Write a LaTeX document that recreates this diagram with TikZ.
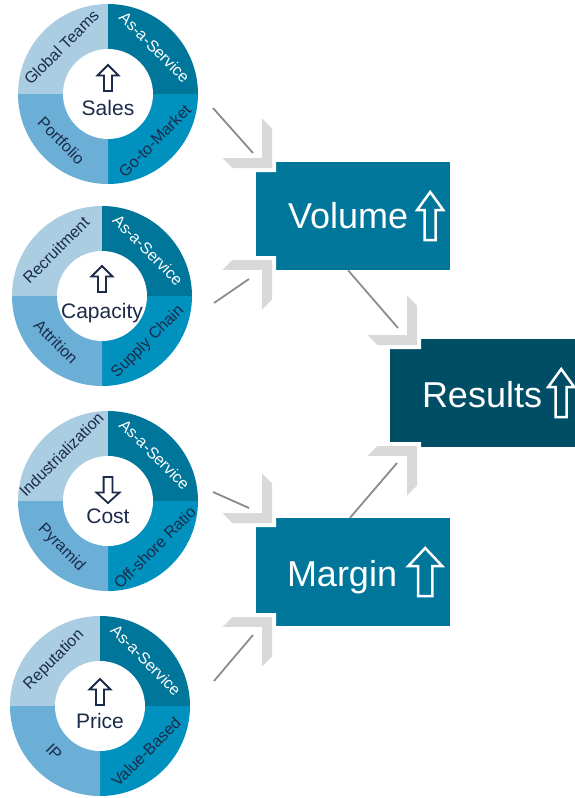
\documentclass[tikz,border=0pt]{standalone}
\usepackage{fontspec}
\setmainfont{Liberation Sans}
\usetikzlibrary{positioning,calc}
\definecolor{ink}{HTML}{1C2B4A}
\definecolor{segpale}{HTML}{AACDE2}
\definecolor{segmid}{HTML}{6BAED6}
\definecolor{segdeep}{HTML}{00769A}
\definecolor{segbright}{HTML}{0091BE}
\definecolor{boxfill}{HTML}{00769A}
\definecolor{resfill}{HTML}{004E66}
\definecolor{chevgrey}{HTML}{D9D9D9}
\definecolor{linkgrey}{HTML}{8C8C8C}

\begin{document}
\begin{tikzpicture}[
  x=1pt, y=-1pt,
  dial/.pic={
    \fill[segpale] (0,0) -- (180:90) arc[start angle=180, end angle=270, radius=90] -- cycle;
    \fill[segdeep] (0,0) -- (270:90) arc[start angle=270, end angle=360, radius=90] -- cycle;
    \fill[segbright] (0,0) -- (0:90) arc[start angle=0, end angle=90, radius=90] -- cycle;
    \fill[segmid] (0,0) -- (90:90) arc[start angle=90, end angle=180, radius=90] -- cycle;
  },
  hubmark/.pic={\filldraw[draw=ink, fill=white, line width=1.8pt]
    (0,-13) -- (10.5,-2.5) -- (4,-2.5) -- (4,13) -- (-4,13) -- (-4,-2.5) -- (-10.5,-2.5) -- cycle;},
  bigmark/.pic={\draw[white, line width=2.5pt]
    (0,-24) -- (13,-6) -- (5.5,-6) -- (5.5,24) -- (-5.5,24) -- (-5.5,-6) -- (-13,-6) -- cycle;},
  chev/.pic={\filldraw[#1] (0,0) -- (-28,28) -- (-42,28) -- (-14,0) -- (-42,-28) -- (-28,-28) -- cycle;},
  hub/.style={circle, fill=white, minimum size=90pt, inner sep=0pt},
  hubtext/.style={font=\fontsize{21}{24}\selectfont, text=ink, anchor=base},
  seg/.style={font=\fontsize{16}{19}\selectfont, text=ink, inner sep=0pt},
  segw/.style={seg, text=white},
  bigbox/.style={rectangle, fill=boxfill, minimum width=194pt, minimum height=108pt},
  boxtext/.style={font=\fontsize{36}{40}\selectfont, text=white, anchor=base west, inner sep=0pt},
  link/.style={draw=linkgrey, line width=1.8pt},
  chevron/.style={fill=chevgrey, draw=none},
  notchcut/.style={fill=white, draw=white, line width=8pt},
]
\useasboundingbox (0,0) rectangle (575,798);

% sales
\pic at (108,94) {dial};
\node[hub] (sales) at (108,94) {};
\pic at ([yshift=16pt]sales.center) {hubmark};
\node[hubtext] at ([yshift=-21pt]sales.center) {Sales};
\node[seg, rotate=45] at ([shift={(225:66)}]sales.center) {Global Teams};
\node[segw, rotate=-45] at ([shift={(315:66)}]sales.center) {As-a-Service};
\node[seg, rotate=45] at ([shift={(45:66)}]sales.center) {Go-to-Market};
\node[seg, rotate=-45] at ([shift={(135:66)}]sales.center) {Portfolio};

% capacity
\pic at (102,296) {dial};
\node[hub] (capacity) at (102,296) {};
\pic at ([yshift=17pt]capacity.center) {hubmark};
\node[hubtext] at ([yshift=-22pt]capacity.center) {Capacity};
\node[seg, rotate=45] at ([shift={(225:65)}]capacity.center) {Recruitment};
\node[segw, rotate=-45] at ([shift={(315:65)}]capacity.center) {As-a-Service};
\node[seg, rotate=45] at ([shift={(45:65)}]capacity.center) {Supply Chain};
\node[seg, rotate=-45] at ([shift={(135:65)}]capacity.center) {Attrition};

% cost
\pic at (108,501) {dial};
\node[hub] (cost) at (108,501) {};
\pic[rotate=180, xscale=1.1] at ([yshift=11pt]cost.center) {hubmark};
\node[hubtext] at ([yshift=-22pt]cost.center) {Cost};
\node[seg, rotate=45] at ([shift={(225:66)}]cost.center) {Industrialization};
\node[segw, rotate=-45] at ([shift={(315:66)}]cost.center) {As-a-Service};
\node[seg, rotate=45] at ([shift={(45:66)}]cost.center) {Off-shore Ratio};
\node[seg, rotate=-45] at ([shift={(135:66)}]cost.center) {Pyramid};

% price
\pic at (100,706) {dial};
\node[hub] (price) at (100,706) {};
\pic at ([yshift=14pt]price.center) {hubmark};
\node[hubtext] at ([yshift=-22pt]price.center) {Price};
\node[seg, rotate=45] at ([shift={(225:65)}]price.center) {Reputation};
\node[segw, rotate=-45] at ([shift={(315:65)}]price.center) {As-a-Service};
\node[seg, rotate=45] at ([shift={(45:65)}]price.center) {Value-Based};
\node[seg, rotate=-45] at ([shift={(135:65)}]price.center) {IP};

% outcome boxes
\node[bigbox] (volume) at (353,216) {};
\node[bigbox] (margin) at (353,572) {};
\node[bigbox, fill=resfill] (results) at (487,393) {};
\node[boxtext] at ([xshift=32pt, yshift=-12pt]volume.west) {Volume};
\pic at ([xshift=-20pt]volume.east) {bigmark};
\node[boxtext] at ([xshift=31pt, yshift=-14pt]margin.west) {Margin};
\pic[xscale=1.3] at ([xshift=-25pt]margin.east) {bigmark};
\node[boxtext] at ([xshift=32pt, yshift=-14pt]results.west) {Results};
\pic at ([xshift=-23pt]results.east) {bigmark};

% chevron heads
\coordinate (vtl) at (272,168);
\coordinate (vbl) at (272,260);
\coordinate (mtl) at (272,523);
\coordinate (mbl) at (272,617);
\coordinate (rtl) at (417,345);
\coordinate (rbl) at (417,446);
\pic[rotate=-45] at (vtl) {chev=notchcut};
\pic[rotate=45] at (vbl) {chev=notchcut};
\pic[rotate=-45] at (mtl) {chev=notchcut};
\pic[rotate=45] at (mbl) {chev=notchcut};
\pic[rotate=-45] at (rtl) {chev=notchcut};
\pic[rotate=45] at (rbl) {chev=notchcut};

\draw[link] ([shift={(105,14)}]sales.center) -- ([shift={(-19,-15)}]vtl);
\draw[link] ([shift={(112,7)}]capacity.center) -- ([shift={(-23,19)}]vbl);
\draw[link] ([shift={(105,-9)}]cost.center) -- ([shift={(-23,-15)}]mtl);
\draw[link] ([shift={(114,-25)}]price.center) -- ([shift={(-19,18)}]mbl);
\draw[link] ([xshift=-5pt]volume.south) -- ([shift={(-19,-17)}]rtl);
\draw[link] ([xshift=-3pt]margin.north) -- ([shift={(-20,17)}]rbl);

\pic[rotate=-45] at (vtl) {chev=chevron};
\pic[rotate=45] at (vbl) {chev=chevron};
\pic[rotate=-45] at (mtl) {chev=chevron};
\pic[rotate=45] at (mbl) {chev=chevron};
\pic[rotate=-45] at (rtl) {chev=chevron};
\pic[rotate=45] at (rbl) {chev=chevron};
\end{tikzpicture}
\end{document}
